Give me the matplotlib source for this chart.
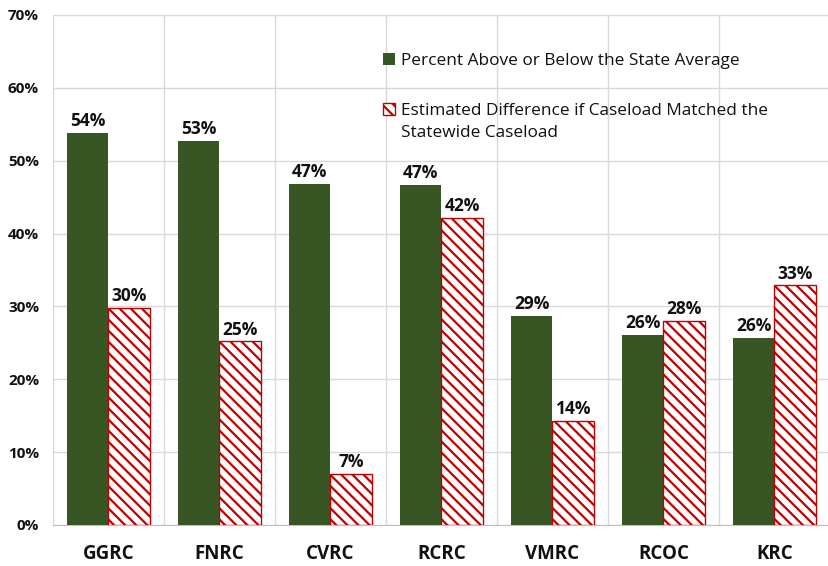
import matplotlib.pyplot as plt
import numpy as np
from matplotlib.ticker import FuncFormatter
from matplotlib.legend_handler import HandlerPatch

categories = ["GGRC", "FNRC", "CVRC", "RCRC", "VMRC", "RCOC", "KRC"]
pct_vs_state = [0.538, 0.527, 0.468, 0.467, 0.287, 0.261, 0.257]
est_difference = [0.298, 0.252, 0.070, 0.421, 0.143, 0.280, 0.329]
series_names = ["Percent Above or Below the State Average",
                "Estimated Difference if Caseload Matched the\nStatewide Caseload"]

GREEN = "#375623"
RED = "#C00000"
plt.rcParams["font.family"] = ["Open Sans", "DejaVu Sans"]
plt.rcParams["hatch.linewidth"] = 1.6


class TopAlignedPatch(HandlerPatch):
    """Legend swatch raised to sit beside the first line of a wrapped label."""

    def __init__(self, dy=0.0, **kw):
        super().__init__(**kw)
        self.dy = dy

    def create_artists(self, legend, orig_handle, xdescent, ydescent, width,
                       height, fontsize, trans):
        return super().create_artists(legend, orig_handle, xdescent,
                                      ydescent - self.dy, width, height,
                                      fontsize, trans)


fig = plt.figure(figsize=(8.29, 5.66), dpi=100)
ax = fig.add_axes([53 / 829, 41 / 566, 777 / 829, 510 / 566])

x = np.arange(len(categories))
w = 0.375
b1 = ax.bar(x - w / 2, pct_vs_state, w, color=GREEN, zorder=3)
b2 = ax.bar(x + w / 2, est_difference, w, color="white", edgecolor=RED, hatch="\\\\\\",
            linewidth=1.0, zorder=3)

for bars, vals in ((b1, pct_vs_state), (b2, est_difference)):
    for r, v in zip(bars, vals):
        ax.annotate(f"{v:.0%}", (r.get_x() + r.get_width() / 2, v), xytext=(0, 2),
                    textcoords="offset points", ha="center", va="bottom",
                    fontsize=12.5, fontweight="bold", color="#111111")

ax.set_xlim(-0.5, len(categories) - 0.5)
ax.set_ylim(0, 0.70)
ax.set_yticks(np.arange(0, 0.71, 0.1))
ax.yaxis.set_major_formatter(FuncFormatter(lambda v, _: f"{v:.0%}"))
ax.set_xticks(x)
ax.set_xticklabels(categories)
ax.set_xticks(np.arange(-0.5, len(categories)), minor=True)
ax.tick_params(axis="x", which="both", length=0, pad=14, labelsize=13.5)
ax.tick_params(axis="y", length=0, pad=10, labelsize=11)
for lab in ax.get_xticklabels() + ax.get_yticklabels():
    lab.set_fontweight("bold")
    lab.set_color("#111111")

ax.grid(axis="y", which="major", color="#d9d9d9", linewidth=1.0, zorder=0)
ax.grid(axis="x", which="minor", color="#d9d9d9", linewidth=1.0, zorder=0)
ax.grid(axis="x", which="major", visible=False)
for s in ("top", "right"):
    ax.spines[s].set_visible(False)
ax.spines["left"].set_color("#d9d9d9")
ax.spines["bottom"].set_color("#bfbfbf")

h1, h2 = b1.patches[0], b2.patches[0]
leg = ax.legend([h1, h2], series_names, loc="upper left", bbox_to_anchor=(0.413, 0.943),
                frameon=False, fontsize=12.4, handlelength=0.7, handleheight=0.7,
                handletextpad=0.4, labelspacing=2.0, borderpad=0,
                handler_map={h2: TopAlignedPatch(dy=9.5)})
for t in leg.get_texts():
    t.set_color("#111111")
    t.set_linespacing(1.5)

fig.savefig("out.png", dpi=100)
